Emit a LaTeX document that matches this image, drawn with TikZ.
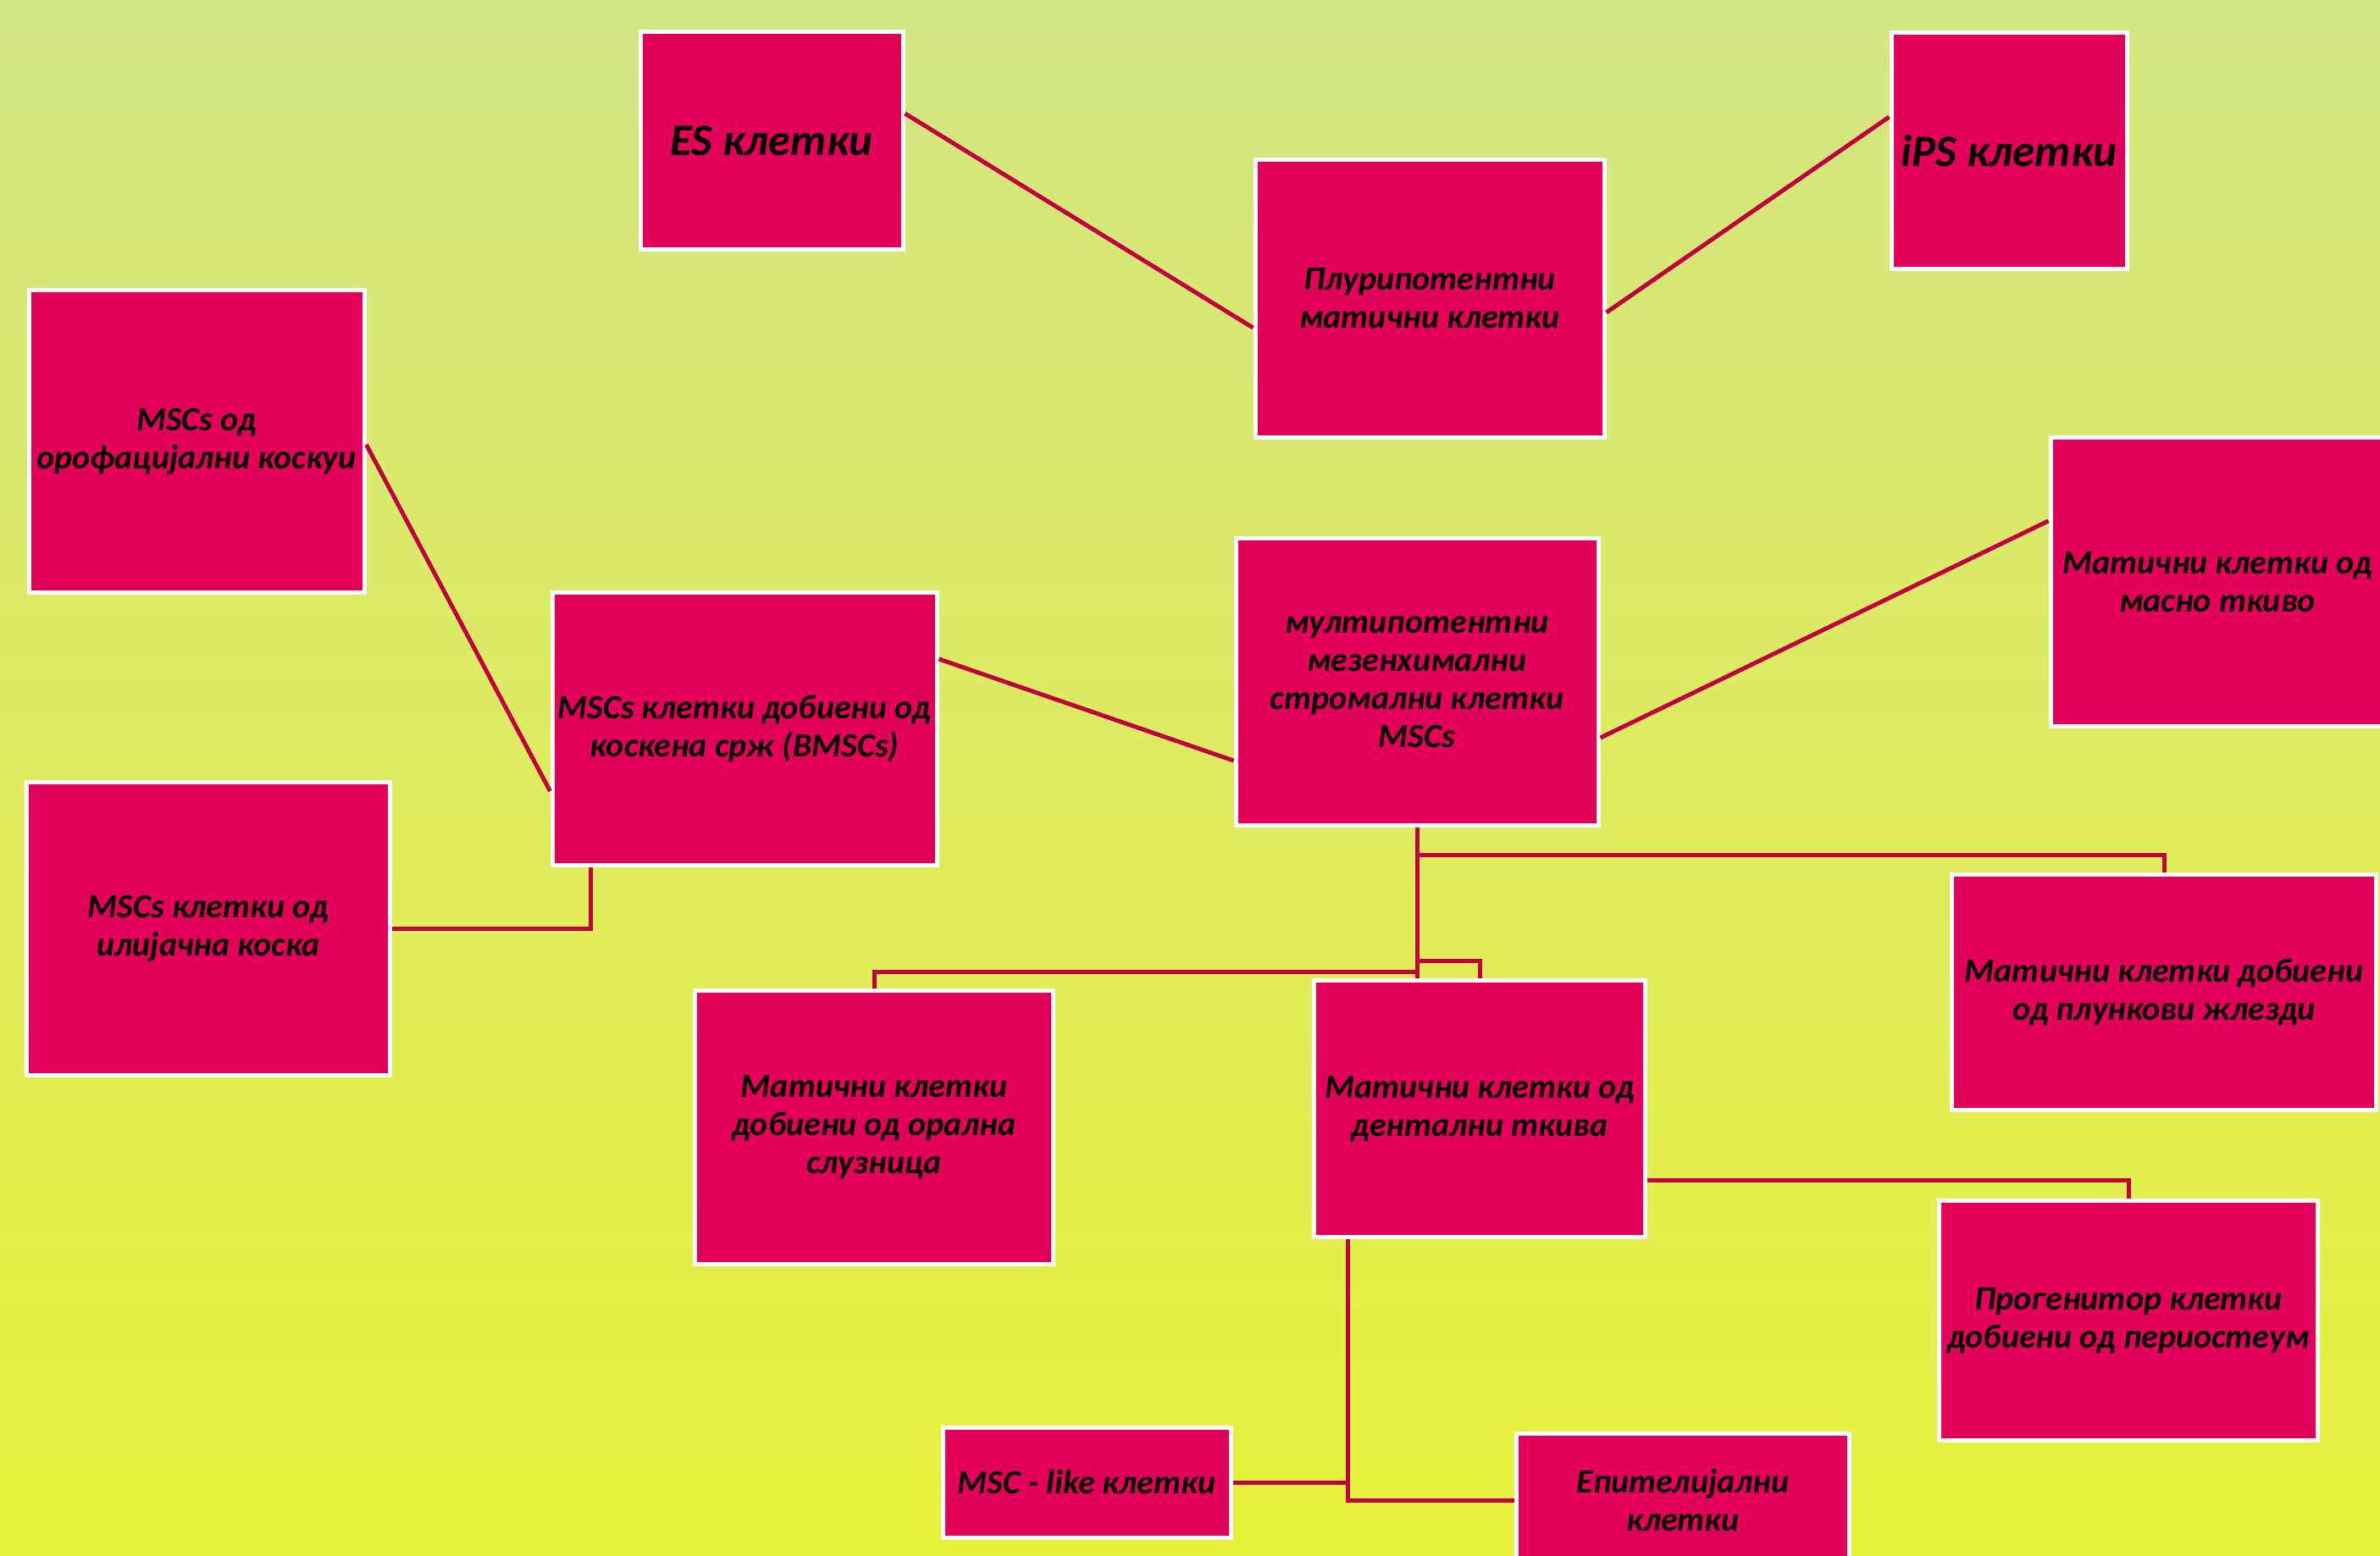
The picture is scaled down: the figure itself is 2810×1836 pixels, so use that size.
\documentclass[tikz,border=0pt]{standalone}
\usepackage{fontspec}
\setmainfont{Carlito}
\definecolor{bgtop}{HTML}{D4E684}
\definecolor{bgbot}{HTML}{E8F23C}
\definecolor{boxred}{HTML}{E3005A}
\definecolor{linkred}{HTML}{C0003F}
\begin{document}
\begin{tikzpicture}[x=1pt,y=-1pt,
  cellbox/.style={draw=white, line width=5pt, fill=boxred, inner sep=0pt, align=center,
    font=\fontsize{40}{45}\selectfont\bfseries\itshape, text=black, anchor=center},
  bigtext/.style={font=\fontsize{53}{60}\selectfont\bfseries\itshape},
  link/.style={draw=linkred, line width=5pt}]
\useasboundingbox (0,0) rectangle (2810,1836);
\shade[top color=bgtop, bottom color=bgbot] (0,0) rectangle (2810,1836);

\node[cellbox, bigtext, minimum width=310pt, minimum height=257pt] (es) at (911,166) {ES клетки};
\node[cellbox, bigtext, minimum width=278pt, minimum height=278pt] (ips) at (2372,178) {iPS клетки};
\node[cellbox, minimum width=412pt, minimum height=328pt] (pluri) at (1688,352) {Плурипотентни\\матични клетки};
\node[cellbox, minimum width=396pt, minimum height=357pt] (oro) at (232,521) {MSCs од\\орофацијални коскуи};
\node[cellbox, minimum width=454pt, minimum height=322pt] (bmsc) at (879,860) {MSCs клетки добиени од\\коскена срж (BMSCs)};
\node[cellbox, minimum width=428pt, minimum height=339pt] (msc) at (1673,805) {мултипотентни\\мезенхимални\\стромални клетки\\MSCs};
\node[cellbox, minimum width=394pt, minimum height=341pt] (masno) at (2618,687) {Матични клетки од\\масно ткиво};
\node[cellbox, minimum width=429pt, minimum height=346pt] (ilij) at (246,1096) {MSCs клетки од\\илијачна коска};
\node[cellbox, minimum width=501pt, minimum height=278pt] (plunk) at (2555,1171) {Матични клетки добиени\\од плункови жлезди};
\node[cellbox, minimum width=423pt, minimum height=323pt] (oral) at (1032,1331) {Матични клетки\\добиени од орална\\слузница};
\node[cellbox, minimum width=391pt, minimum height=303pt] (dent) at (1747,1309) {Матични клетки од\\дентални ткива};
\node[cellbox, minimum width=447pt, minimum height=283pt] (perio) at (2513,1559) {Прогенитор клетки\\добиени од периостеум};
\node[cellbox, minimum width=340pt, minimum height=130pt] (msclike) at (1283,1750) {MSC - like клетки};
\node[cellbox, minimum width=393pt, minimum height=158pt] (epit) at (1987,1771) {Епителијални\\клетки};

\draw[link] ([yshift=32pt]es.east) -- ([yshift=-35pt]pluri.west);
\draw[link] ([yshift=-17pt]pluri.east) -- ([yshift=40pt]ips.west);
\draw[link] ([yshift=-4pt]oro.east) -- ([yshift=-74pt]bmsc.west);
\draw[link] ([yshift=82pt]bmsc.east) -- ([yshift=-93pt]msc.west);
\draw[link] ([yshift=-66pt]msc.east) -- ([yshift=72pt]masno.west);
\draw[link] (ilij.east) -| ([xshift=-182pt]bmsc.south);
\draw[link] (msc.south) -- (msc.south |- dent.north);
\draw[link] (msc.south) ++(0,32) -| (plunk.north);
\draw[link] (msc.south) ++(0,170) -| (oral.north);
\draw[link] (msc.south) ++(0,157) -| (dent.north);
\draw[link] ([yshift=-84pt]dent.east) -| (perio.north);
\coordinate (dd) at ([xshift=-156pt]dent.south);
\draw[link] (dd) |- (epit.west);
\draw[link] (msclike.east) -- (msclike.east -| dd);
\end{tikzpicture}
\end{document}
